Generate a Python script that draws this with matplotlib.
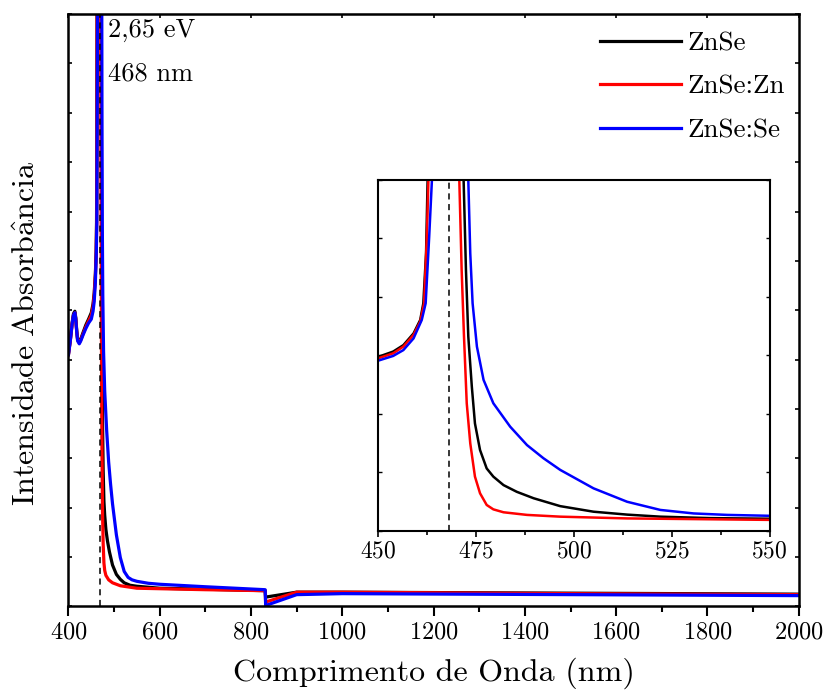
import matplotlib
matplotlib.use("Agg")
import matplotlib.pyplot as plt
from matplotlib.ticker import MultipleLocator, NullFormatter

plt.rcParams['font.family'] = 'serif'
plt.rcParams['font.serif'] = ['cmr10']
plt.rcParams['mathtext.fontset'] = 'cm'
plt.rcParams['axes.formatter.use_mathtext'] = True

# espectros de absorbância (unidades arbitrárias)
wl_znse = [400, 404, 408, 411, 414, 416, 418, 420, 423.7, 427, 432, 438, 444, 450,
           453.8, 456.4, 459.0, 460.7, 461.5, 462.2, 462.6, 465, 469, 471.8, 472.4,
           473.0, 473.9, 474.7, 476.0, 477.7, 479.4, 482.0, 485.4, 489.7, 496.5,
           505.0, 513.6, 522.1, 534.9, 549.8, 600, 700, 831, 832, 900, 1000, 1500, 2000]
abs_znse = [5.12, 5.4, 5.75, 5.93, 5.98, 5.85, 5.6, 5.42, 5.36, 5.42, 5.55, 5.7, 5.82, 5.95,
            6.13, 6.35, 6.75, 7.21, 7.78, 9.49, 12.0, 15.0, 15.0, 12.0, 8.92,
            6.64, 4.93, 3.67, 2.76, 2.13, 1.85, 1.56, 1.33, 1.11, 0.84,
            0.65, 0.55, 0.48, 0.43, 0.41, 0.37, 0.35, 0.32, 0.19, 0.29, 0.29, 0.27, 0.25]

wl_zn = [400, 404, 408, 411, 414, 416, 418, 420, 423.7, 427, 432, 438, 444, 450,
         453.8, 456.4, 459.0, 460.7, 461.7, 462.4, 462.8, 465, 469, 470.7, 471.3,
         471.9, 472.6, 473.5, 474.7, 476.0, 477.7, 479.4, 482.0, 488.0, 496.5,
         513.6, 549.8, 600, 700, 831, 832, 900, 1000, 1500, 2000]
abs_zn = [5.1, 5.38, 5.72, 5.9, 5.95, 5.82, 5.57, 5.4, 5.34, 5.4, 5.52, 5.66, 5.78, 5.9,
          6.07, 6.30, 6.70, 7.15, 7.78, 10.06, 12.0, 15.0, 15.0, 12.0, 8.92,
          6.64, 4.36, 2.99, 1.85, 1.28, 0.88, 0.73, 0.63, 0.54, 0.48,
          0.42, 0.37, 0.36, 0.34, 0.32, 0.09, 0.29, 0.29, 0.26, 0.24]

wl_se = [400, 404, 408, 411, 414, 416, 418, 420, 423.7, 427, 432, 438, 444, 450,
         453.8, 456.4, 459.0, 461.1, 462.1, 463.0, 463.7, 467, 470, 473.0, 473.5,
         474.1, 475.2, 476.9, 479.4, 483.7, 488.0, 492.2, 496.5, 505.0, 513.6,
         522.1, 530.6, 539.2, 549.8, 575, 600, 700, 831, 832, 900, 1000, 1500, 2000]
abs_se = [5.1, 5.38, 5.72, 5.9, 5.95, 5.82, 5.57, 5.38, 5.32, 5.38, 5.5, 5.63, 5.74, 5.82,
          5.98, 6.18, 6.58, 7.21, 7.78, 10.06, 12.0, 16.0, 16.0, 12.0, 9.49,
          7.78, 6.30, 5.16, 4.36, 3.56, 2.93, 2.48, 2.08, 1.45, 0.99,
          0.71, 0.59, 0.54, 0.51, 0.47, 0.45, 0.4, 0.34, 0.02, 0.24, 0.26, 0.24, 0.22]

series = [("ZnSe", wl_znse, abs_znse, "black"),
          ("ZnSe:Zn", wl_zn, abs_zn, "#ff0000"),
          ("ZnSe:Se", wl_se, abs_se, "#0000ff")]

gap_nm = 468

fig = plt.figure(figsize=(8.23, 6.91), dpi=100)
ax = fig.add_axes([0.0832, 0.1223, 0.8873, 0.8574])

for name, x, y, c in series:
    ax.plot(x, y, color=c, lw=2.3, label=name)
ax.axvline(gap_nm, color="black", ls=(0, (4, 3)), lw=1.1)

ax.set_xlim(400, 2000)
ax.set_ylim(0, 12)
ax.xaxis.set_major_locator(MultipleLocator(200))
ax.xaxis.set_minor_locator(MultipleLocator(100))
ax.yaxis.set_major_locator(MultipleLocator(1))
ax.yaxis.set_major_formatter(NullFormatter())
ax.tick_params(axis='x', which='major', direction='out', length=7, width=1.5, labelsize=17.5, pad=4)
ax.tick_params(axis='x', which='minor', direction='out', length=4, width=1.5)
ax.tick_params(axis='y', which='major', direction='in', length=3, width=1.2, left=True, right=True)
ax.secondary_xaxis('top').tick_params(direction='in', length=3, width=1.2, labeltop=False)
for s in ax.spines.values():
    s.set_linewidth(1.8)

ax.set_xlabel("Comprimento de Onda (nm)", fontsize=23, labelpad=10)
ax.set_ylabel(r"$\mathrm{Intensidade\ Absorb\hat{a}ncia}$", fontsize=23)
ax.yaxis.set_label_coords(-0.037, 0.46)

ax.text(486.6, 11.68, "2,65 eV", fontsize=19, va="center", ha="left")
ax.text(486.6, 10.8, "468 nm", fontsize=19, va="center", ha="left")

ax.legend(loc="upper right", bbox_to_anchor=(1.015, 1.012), frameon=False, fontsize=19.5,
          handlelength=3.0, labelspacing=0.72, handletextpad=0.25)

# detalhe da borda de absorção
axin = fig.add_axes([0.4597, 0.232, 0.4753, 0.5075])
for name, x, y, c in series:
    axin.plot(x, y, color=c, lw=1.8)
axin.axvline(gap_nm, color="black", ls=(0, (4, 3)), lw=1.1)
axin.set_xlim(450, 550)
axin.set_ylim(0, 12)
axin.xaxis.set_major_locator(MultipleLocator(25))
axin.xaxis.set_minor_locator(MultipleLocator(12.5))
axin.yaxis.set_major_locator(MultipleLocator(2))
axin.yaxis.set_major_formatter(NullFormatter())
axin.tick_params(axis='x', which='major', direction='out', length=4, width=1.2, labelsize=17, pad=3)
axin.tick_params(axis='x', which='minor', direction='out', length=3, width=1.2)
axin.tick_params(axis='y', direction='in', length=3, width=1.0, left=True, right=True)
for s in axin.spines.values():
    s.set_linewidth(1.5)

fig.savefig("out.png", dpi=100)
